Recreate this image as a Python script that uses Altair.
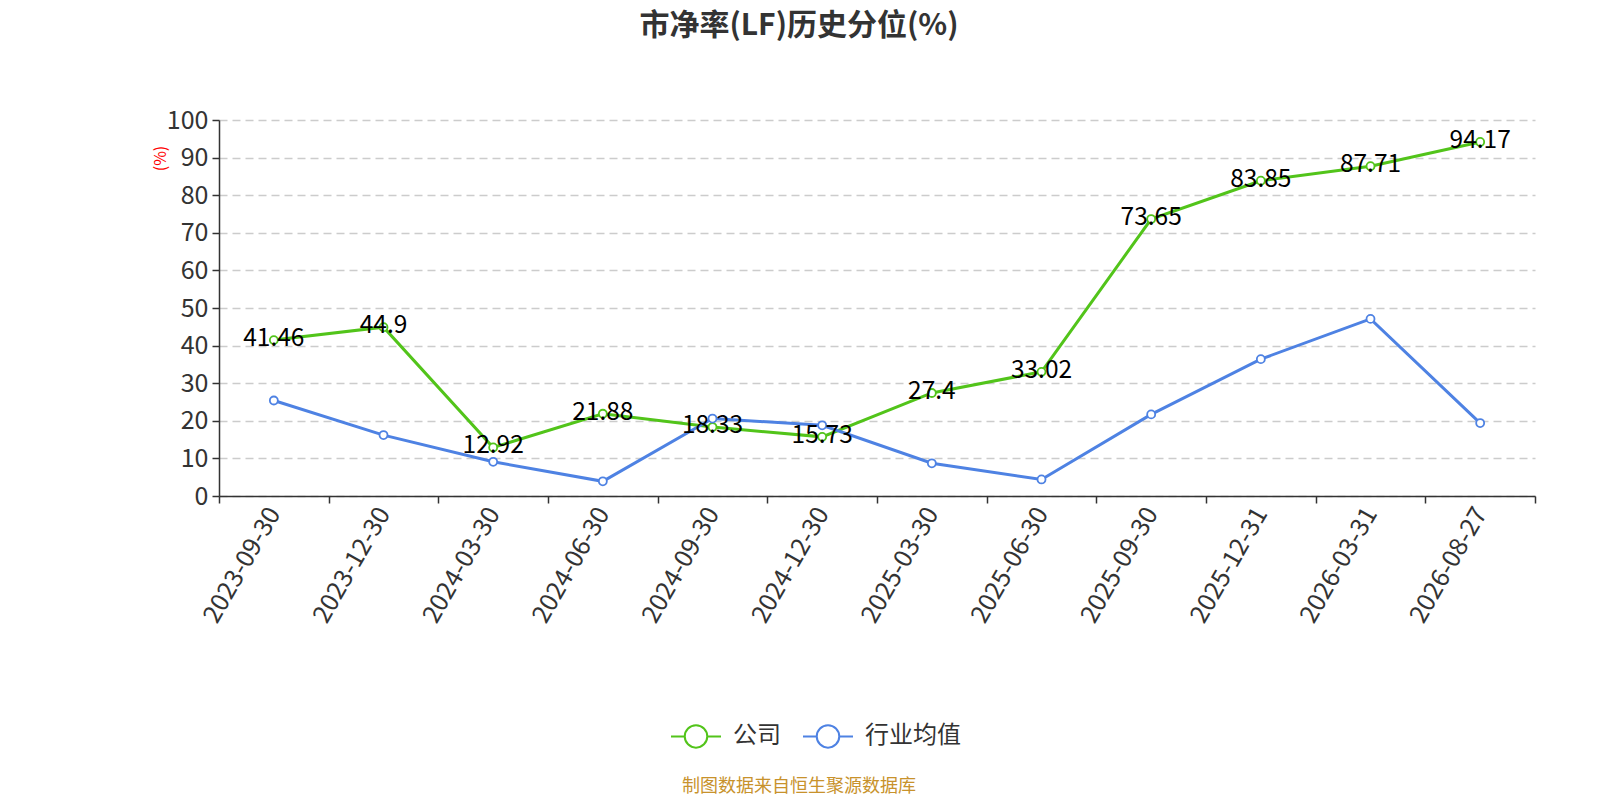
import altair as alt
import pandas as pd

dates = ["2023-09-30", "2023-12-30", "2024-03-30", "2024-06-30", "2024-09-30", "2024-12-30",
         "2025-03-30", "2025-06-30", "2025-09-30", "2025-12-31", "2026-03-31", "2026-08-27"]
company = [41.46, 44.9, 12.92, 21.88, 18.33, 15.73, 27.4, 33.02, 73.65, 83.85, 87.71, 94.17]
industry = [25.4, 16.2, 9.1, 3.9, 20.6, 18.8, 8.7, 4.4, 21.7, 36.4, 47.1, 19.4]
series_names = ["公司", "行业均值"]
colors = ["#52C41A", "#4E82E3"]

FONT = "Noto Sans CJK SC"

rows = []
for d, c, i in zip(dates, company, industry):
    rows.append({"date": d, "series": series_names[0], "value": c})
    rows.append({"date": d, "series": series_names[1], "value": i})
df = pd.DataFrame(rows)
df_company = pd.DataFrame({"date": dates, "value": company, "label": [str(v) for v in company]})

W, H = 1316, 376

x_enc = alt.X("date:N", sort=dates, title=None,
              scale=alt.Scale(type="band", paddingInner=0, paddingOuter=0),
              axis=alt.Axis(labelAngle=-60, labelFontSize=25, labelColor="#333333",
                            labelFont=FONT, labelAlign="right", labelBaseline="middle",
                            labelPadding=6, tickBand="extent", tickSize=7,
                            tickColor="#333333", domainColor="#333333", domainWidth=1.5,
                            tickWidth=1.5, grid=False, labelOverlap=False))
y_enc = alt.Y("value:Q", title="(%)",
              scale=alt.Scale(domain=[0, 100], nice=False),
              axis=alt.Axis(values=list(range(0, 101, 10)), labelFontSize=25,
                            labelColor="#333333", labelFont=FONT, labelPadding=4,
                            tickSize=7, tickColor="#333333", domainColor="#333333",
                            domainWidth=1.5, tickWidth=1.5, labelOverlap=False,
                            grid=True, gridDash=[8, 5], gridColor="#cccccc", gridWidth=1.3,
                            titleColor="red", titleFontSize=16, titleFont=FONT,
                            titleFontWeight="normal", titleAngle=270,
                            titleX=-59, titleY=38, titleAlign="center",
                            titleBaseline="middle"))

color_enc = alt.Color("series:N", sort=series_names,
                      scale=alt.Scale(domain=series_names, range=colors),
                      legend=alt.Legend(title=None, orient="none", direction="horizontal",
                                        legendX=451, legendY=590,
                                        symbolType="M-1,0L-0.45,0M0.45,0L1,0M-0.45,0A0.45,0.45,0,1,1,0.45,0A0.45,0.45,0,1,1,-0.45,0Z",
                                        symbolSize=2500, symbolStrokeWidth=2,
                                        symbolFillColor="white",
                                        labelFontSize=24, labelFont=FONT,
                                        labelColor="#333333", labelOffset=11,
                                        columnPadding=18))

base = alt.Chart(df)
lines = base.mark_line(strokeWidth=3).encode(x=x_enc, y=y_enc, color=color_enc)
points = base.mark_point(filled=True, fill="white", size=64, strokeWidth=1.8, opacity=1).encode(
    x=x_enc, y=y_enc,
    stroke=alt.Stroke("series:N", scale=alt.Scale(domain=series_names, range=colors), legend=None))
labels = alt.Chart(df_company).mark_text(fontSize=24.5, font=FONT, color="#000000",
                                         baseline="middle", dy=-1).encode(
    x=x_enc, y=y_enc, text="label:N")

footer = alt.Chart(pd.DataFrame({"t": ["制图数据来自恒生聚源数据库"]})).mark_text(
    fontSize=18, font=FONT, color="#C8922C", baseline="middle", align="center").encode(
    x=alt.value(580), y=alt.value(667), text="t:N")

chart = alt.layer(lines, points, labels, footer).properties(
    width=W, height=H,
    title=alt.TitleParams("市净率(LF)历史分位(%)", fontSize=30, font=FONT, fontWeight="bold",
                          color="#333333", anchor="middle", dx=-78, offset=67),
    padding={"left": 211, "top": 112, "right": 40, "bottom": 302},
    autosize=alt.AutoSizeParams(type="none"),
).configure_view(stroke=None).resolve_scale(color="independent")

chart.save("out.html", embed_options={"renderer": "svg", "actions": False})
